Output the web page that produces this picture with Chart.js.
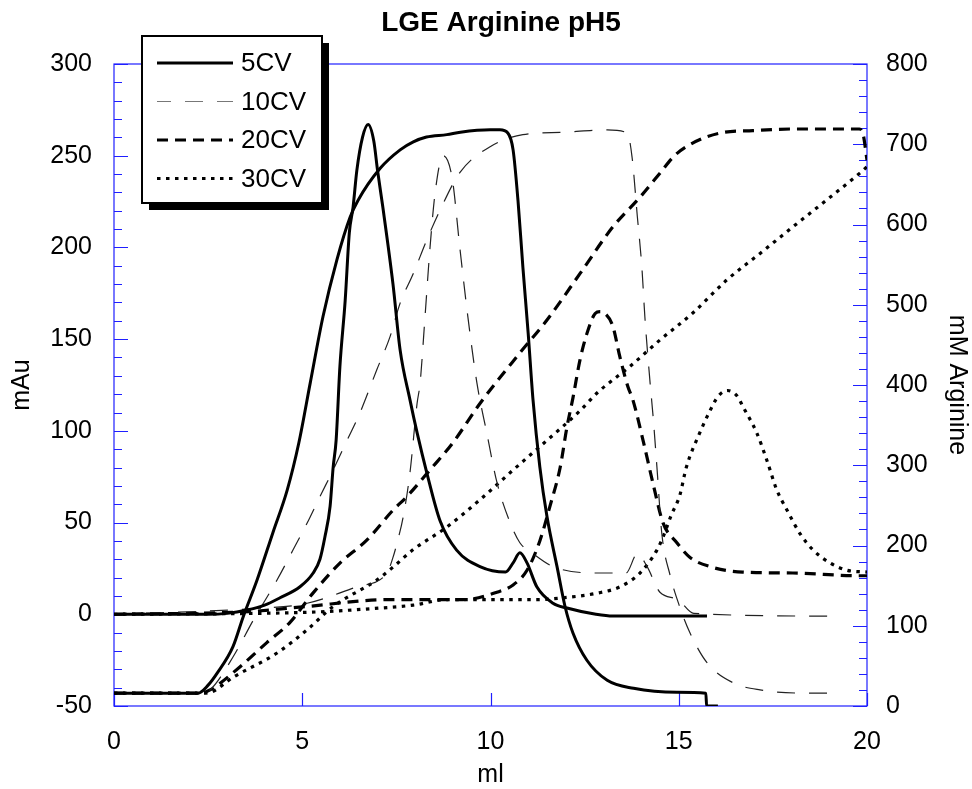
<!DOCTYPE html>
<html>
<head>
<meta charset="utf-8">
<script src="https://cdn.jsdelivr.net/npm/chart.js@4/dist/chart.umd.min.js"></script>
<style>
  html, body { margin: 0; padding: 0; background: #fff; }
  #wrap { width: 972px; height: 789px; }
</style>
</head>
<body>
<div id="wrap"><canvas id="lgeChart" width="972" height="789"></canvas></div>
<script>
// tick labels
const xTicks = [0, 5, 10, 15, 20];
const mAuTicks = [-50, 0, 50, 100, 150, 200, 250, 300];
const mMTicks = [0, 100, 200, 300, 400, 500, 600, 700, 800];
const seriesNames = ['5CV', '10CV', '20CV', '30CV'];

// 5CV
const cv5UvX = [0, 2.5, 3.0, 3.53, 4.0, 4.41, 4.94, 5.29, 5.47, 5.6, 5.74, 5.82, 5.9, 6.0, 6.14, 6.25, 6.35, 6.45, 6.6, 6.75, 6.9, 7.0, 7.14, 7.41, 7.6, 7.86, 8.05, 8.31, 8.66, 9.1, 9.72, 10.4, 10.6, 10.78, 10.97, 11.23, 11.66, 12.03, 12.8, 13.25, 15.0, 15.75];
const cv5UvY = [0, 0, 0.5, 2.3, 5, 9, 15, 22.5, 30, 42, 59, 80, 95, 135, 171, 208, 222, 242, 260, 267, 258, 242, 222, 180, 144, 117, 99, 77, 51, 35, 26, 23, 28, 33.5, 28, 15, 6, 3.4, 0, -1, -1, -1];
const cv5ArgX = [0, 2.23, 2.5, 2.74, 3.16, 3.43, 3.8, 4.22, 4.6, 4.91, 5.21, 5.55, 5.92, 6.27, 6.48, 7.07, 7.6, 7.95, 8.3, 8.84, 9.2, 9.99, 10.25, 10.46, 10.6, 10.73, 10.86, 11.0, 11.13, 11.31, 11.5, 11.77, 11.98, 12.19, 12.56, 13.1, 13.8, 14.95, 15.72, 15.74, 16.04];
const cv5ArgY = [16, 16, 26, 41, 74, 111, 157, 216, 269, 328, 402, 485, 556, 609, 630, 670, 693, 703, 709, 712, 715, 718, 718, 714, 693, 630, 547, 465, 381, 298, 236, 173, 124, 91, 57, 32, 22, 17, 16, 0, 0];

// 10CV
const cv10UvX = [0, 3.6, 5.13, 6.45, 7.25, 7.41, 7.52, 7.68, 7.86, 8.05, 8.13, 8.26, 8.39, 8.53, 8.74, 8.98, 9.19, 9.4, 9.64, 9.9, 10.17, 10.52, 10.78, 11.13, 11.66, 12.83, 13.6, 13.9, 14.16, 14.5, 14.98, 15.4, 19.2];
const cv10UvY = [0, 3, 6, 15, 22.5, 31, 39, 53, 77, 115, 126, 162, 199, 230, 250, 238, 199, 162, 126, 99, 72, 50, 39, 33, 26, 22.5, 22.5, 33, 26, 12, 8, 0.5, -1];
const cv10ArgX = [0, 2.3, 2.55, 3.16, 3.7, 4.33, 4.75, 5.13, 5.47, 5.82, 6.19, 6.53, 6.98, 7.33, 7.6, 7.95, 8.31, 8.66, 9.19, 9.99, 10.86, 11.93, 13.1, 13.63, 13.76, 13.9, 14.02, 14.1, 14.24, 14.32, 14.42, 14.55, 14.77, 15.03, 15.3, 15.75, 16.44, 17.16, 18.49, 19.2];
const cv10ArgY = [16, 16, 20, 61, 107, 157, 194, 228, 261, 294, 331, 365, 419, 460, 502, 539, 581, 618, 665, 697, 712, 715, 718, 714, 684, 610, 547, 485, 402, 360, 298, 215, 163, 123, 91, 54, 29, 20, 16, 16];

// 20CV
const cv20UvX = [0, 3.6, 5.0, 7.33, 9.27, 10.17, 10.6, 10.97, 11.31, 11.58, 11.85, 12.03, 12.19, 12.38, 12.56, 12.78, 12.91, 13.04, 13.25, 13.44, 13.65, 13.78, 14.05, 14.32, 14.58, 14.95, 15.3, 15.83, 16.7, 18.03, 19.8, 20];
const cv20UvY = [0, 1.5, 4, 8, 8, 12, 16, 24, 40, 59, 80, 102, 118, 139, 153, 164, 165, 164, 157, 140, 124, 117, 95, 71, 50, 39, 31, 26, 23, 22.5, 21, 21];
const cv20ArgX = [0, 2.3, 2.55, 3.35, 4.06, 4.67, 5.29, 6.0, 6.72, 7.41, 7.78, 8.39, 9.0, 9.72, 10.78, 11.5, 12.38, 13.25, 13.97, 14.5, 14.85, 15.2, 16.1, 16.97, 18.03, 19.8, 19.9, 20];
const cv20ArgY = [16, 16, 20, 49, 79, 104, 141, 178, 207, 244, 261, 294, 328, 377, 440, 481, 539, 597, 634, 664, 684, 697, 714, 717, 719, 719, 712, 680];

// 30CV
const cv30UvX = [0, 5.0, 7.07, 7.95, 8.84, 9.72, 11.23, 11.93, 12.83, 13.44, 13.97, 14.42, 14.6, 14.8, 15.03, 15.2, 15.56, 15.83, 16.05, 16.3, 16.55, 16.71, 17.07, 17.34, 17.6, 17.87, 18.22, 18.57, 19.02, 19.47, 20];
const cv30UvY = [0, 1, 3.4, 5, 8, 8, 8, 9, 11.5, 15, 22.5, 35, 43, 54, 65, 80, 99, 111, 119, 122, 119, 113, 99, 84, 68, 57, 44, 35, 28, 24, 23];
const cv30ArgX = [0, 2.3, 2.55, 3.17, 4.33, 5.13, 5.82, 6.98, 7.41, 7.95, 8.84, 9.72, 10.6, 11.5, 12.38, 12.83, 13.7, 14.5, 15.38, 16.28, 17.16, 18.03, 18.94, 19.81, 20];
const cv30ArgY = [16, 16, 17, 36, 66, 95, 124, 157, 173, 195, 223, 257, 294, 331, 368, 390, 423, 456, 490, 531, 564, 597, 631, 664, 672];

const lineStyles = {
    '5CV':  { color: '#000', width: 3, dash: [] },
    '10CV': { color: '#222', width: 1.2, dash: [18, 14] },
    '20CV': { color: '#000', width: 3.2, dash: [11, 7] },
    '30CV': { color: '#000', width: 3.2, dash: [3.5, 5.5] }
};

function pts(xs, ys) {
    return xs.map((x, i) => ({ x: x, y: ys[i] }));
}

function curve(name, xs, ys, axis) {
    const s = lineStyles[name];
    return {
        label: name,
        data: pts(xs, ys),
        yAxisID: axis,
        borderColor: s.color,
        borderWidth: s.width,
        borderDash: s.dash,
        pointRadius: 0,
        fill: false,
        cubicInterpolationMode: 'monotone'
    };
}

const blue = '#1f1fff';
const fontFamily = "Arial, 'Liberation Sans', sans-serif";

// blue frame + inward ticks
const framePlugin = {
    id: 'frame',
    afterLayout(chart) {
        // title sits a bit right of the canvas centre in the original
        if (chart.titleBlock) {
            chart.titleBlock.left += 15;
            chart.titleBlock.right += 15;
        }
    },
    beforeDatasetsDraw(chart) {
        const { ctx, chartArea: a, scales } = chart;
        ctx.save();
        ctx.strokeStyle = blue;
        ctx.lineWidth = 1.2;
        ctx.strokeRect(a.left, a.top, a.right - a.left, a.bottom - a.top);
        ctx.beginPath();
        for (let v = -50; v <= 300; v += 10) {
            const py = Math.round(scales.y.getPixelForValue(v)) + 0.5;
            const len = v % 50 === 0 ? 14 : 8;
            ctx.moveTo(a.left, py); ctx.lineTo(a.left + len, py);
        }
        for (let v = 0; v <= 800; v += 20) {
            const py = Math.round(scales.y1.getPixelForValue(v)) + 0.5;
            const len = v % 100 === 0 ? 14 : 8;
            ctx.moveTo(a.right, py); ctx.lineTo(a.right - len, py);
        }
        xTicks.forEach(v => {
            const px = Math.round(scales.x.getPixelForValue(v)) + 0.5;
            ctx.moveTo(px, a.bottom); ctx.lineTo(px, a.bottom - 13);
        });
        ctx.stroke();
        ctx.restore();
    }
};

// boxed legend with drop shadow, top left
const boxLegend = {
    id: 'boxLegend',
    afterDraw(chart) {
        const ctx = chart.ctx;
        const bx = 142, by = 36, bw = 180, bh = 167, sh = 7;
        ctx.save();
        ctx.fillStyle = '#000';
        ctx.fillRect(bx + sh, by + sh, bw, bh);
        ctx.fillStyle = '#fff';
        ctx.fillRect(bx, by, bw, bh);
        ctx.strokeStyle = '#000';
        ctx.lineWidth = 2;
        ctx.strokeRect(bx, by, bw, bh);
        ctx.font = '26px ' + fontFamily;
        ctx.textBaseline = 'middle';
        ctx.textAlign = 'left';
        seriesNames.forEach((name, i) => {
            const s = lineStyles[name];
            const y = 63 + i * 38.5;
            ctx.beginPath();
            ctx.strokeStyle = name === '10CV' ? '#777' : s.color;
            ctx.lineWidth = s.width;
            ctx.setLineDash(s.dash);
            if (name === '10CV') ctx.lineDashOffset = 4;
            ctx.moveTo(157, y); ctx.lineTo(233, y);
            ctx.stroke();
            ctx.setLineDash([]);
            ctx.lineDashOffset = 0;
            ctx.fillStyle = '#000';
            ctx.fillText(name, 241, y + 1);
        });
        ctx.restore();
    }
};

Chart.defaults.font.family = fontFamily;
Chart.defaults.color = '#000';

new Chart(document.getElementById('lgeChart'), {
    type: 'line',
    data: {
        datasets: [
            curve('5CV', cv5UvX, cv5UvY, 'y'),
            curve('5CV', cv5ArgX, cv5ArgY, 'y1'),
            curve('10CV', cv10UvX, cv10UvY, 'y'),
            curve('10CV', cv10ArgX, cv10ArgY, 'y1'),
            curve('20CV', cv20UvX, cv20UvY, 'y'),
            curve('20CV', cv20ArgX, cv20ArgY, 'y1'),
            curve('30CV', cv30UvX, cv30UvY, 'y'),
            curve('30CV', cv30ArgX, cv30ArgY, 'y1')
        ]
    },
    options: {
        responsive: false,
        animation: false,
        layout: { padding: 0 },
        plugins: {
            legend: { display: false },
            tooltip: { enabled: false },
            title: {
                display: true,
                text: 'LGE Arginine pH5',
                font: { size: 28, weight: 'bold' },
                color: '#000',
                padding: { top: 6, bottom: 24.4 }
            }
        },
        scales: {
            x: {
                type: 'linear',
                min: 0, max: 20,
                afterBuildTicks: s => { s.ticks = xTicks.map(v => ({ value: v })); },
                afterFit: s => { s.height = 83; },
                grid: { display: false, drawTicks: false },
                border: { display: false },
                ticks: { font: { size: 25 }, padding: 21.5, maxRotation: 0 },
                title: { display: true, text: 'ml', font: { size: 25, lineHeight: 1 }, padding: { top: 0, bottom: 1.5 } }
            },
            y: {
                position: 'left',
                min: -50, max: 300,
                afterBuildTicks: s => { s.ticks = mAuTicks.map(v => ({ value: v })); },
                afterFit: s => { s.width = 114; },
                grid: { display: false, drawTicks: false },
                border: { display: false },
                ticks: { font: { size: 25 }, padding: 22 },
                title: { display: true, text: 'mAu', font: { size: 25, lineHeight: 1 }, padding: { top: 9.5, bottom: 0 } }
            },
            y1: {
                position: 'right',
                min: 0, max: 800,
                afterBuildTicks: s => { s.ticks = mMTicks.map(v => ({ value: v })); },
                afterFit: s => { s.width = 105; },
                grid: { display: false, drawTicks: false },
                border: { display: false },
                ticks: { font: { size: 25 }, padding: 19 },
                title: { display: true, text: 'mM Arginine', font: { size: 25, lineHeight: 1 }, padding: { top: 2.5, bottom: 0 } }
            }
        }
    },
    plugins: [framePlugin, boxLegend]
});
</script>
</body>
</html>
